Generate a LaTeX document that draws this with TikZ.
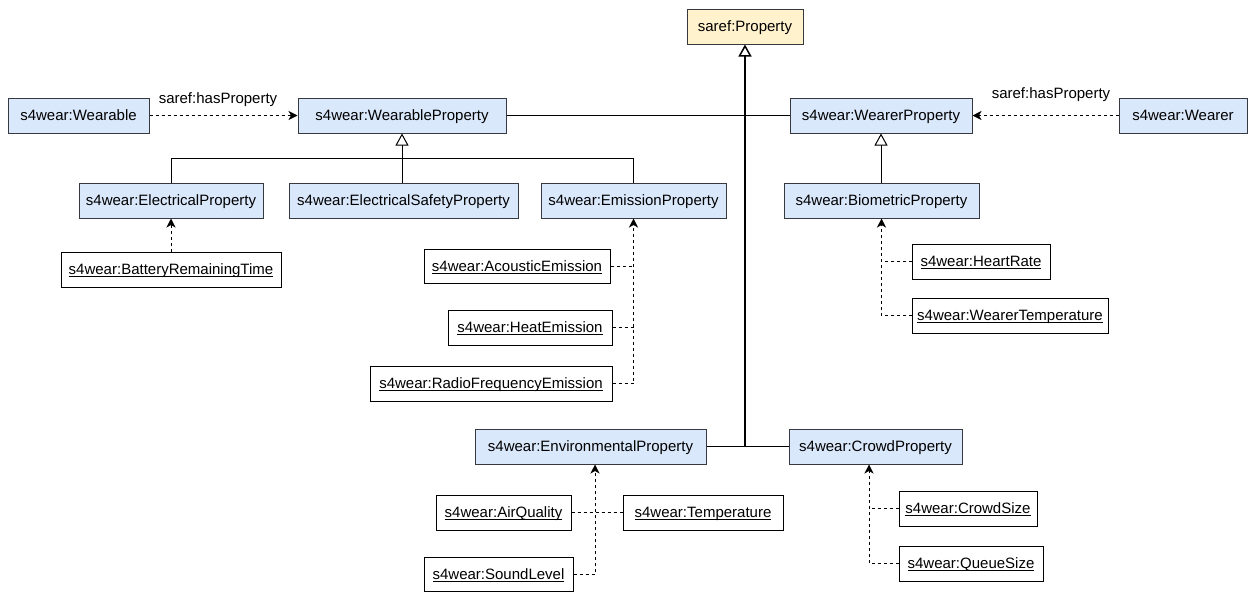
\documentclass[tikz,border=0pt]{standalone}
\usepackage{fontspec}
\setmainfont{Liberation Sans}
\usetikzlibrary{arrows.meta}
\definecolor{bluefill}{HTML}{DAE8FC}
\definecolor{yellowfill}{HTML}{FFF2CC}
\definecolor{boxline}{HTML}{36393D}
\newsavebox{\myulbox}
\newcommand{\ul}[1]{\sbox{\myulbox}{#1}\rlap{\rule[-1.7pt]{\wd\myulbox}{0.9pt}}\usebox{\myulbox}}
\tikzset{
  basebox/.style={line width=1pt, minimum height=35pt, inner sep=0pt,
    text height=10.7pt, text depth=0pt,
    font=\fontsize{15}{17}\selectfont, text=black},
  cls/.style={basebox, draw=boxline, fill=bluefill},
  topcls/.style={basebox, draw=boxline, fill=yellowfill},
  inst/.style={basebox, draw=black, fill=white},
  lbl/.style={inner sep=0pt, font=\fontsize{15}{17}\selectfont},
  assoc/.style={draw=black, line width=1pt},
  dline/.style={draw=black, line width=1pt, dash pattern=on 3pt off 3pt},
  dep/.style={dline, -{Stealth[length=9pt,width=9pt,inset=2.5pt]}},
  gen/.style={draw=black, line width=1pt, -{Triangle[open, length=12pt, width=13pt, fill=white]}},
  biggen/.style={draw=black, line width=2pt, -{Triangle[open, length=12pt, width=13pt, fill=white, line width=1.5pt]}},
}
\begin{document}
\begin{tikzpicture}[x=1pt,y=-1pt]
\useasboundingbox (0,0) rectangle (1248,592);

% classes
\node[topcls, minimum width=116pt] (prop) at (745,26.5) {saref:Property};
\node[cls, minimum width=141pt] (wbl) at (78.5,115.5) {s4wear:Wearable};
\node[cls, minimum width=208pt] (wp) at (402,115.5) {s4wear:WearableProperty};
\node[cls, minimum width=182pt] (wrp) at (881,115.5) {s4wear:WearerProperty};
\node[cls, minimum width=128pt] (wr) at (1183,115.5) {s4wear:Wearer};
\node[cls, minimum width=184pt] (elec) at (171,200.5) {s4wear:ElectricalProperty};
\node[cls, minimum width=229pt] (esp) at (403.5,200.5) {s4wear:ElectricalSafetyProperty};
\node[cls, minimum width=185pt] (emis) at (633.5,200.5) {s4wear:EmissionProperty};
\node[cls, minimum width=195pt] (bio) at (881.5,200.5) {s4wear:BiometricProperty};
\node[cls, minimum width=231pt] (env) at (590.5,446.5) {s4wear:EnvironmentalProperty};
\node[cls, minimum width=173pt] (crowd) at (875.5,446.5) {s4wear:CrowdProperty};

% instances
\node[inst, minimum width=220pt] (brt) at (171,269.5) {\ul{s4wear:BatteryRemainingTime}};
\node[inst, minimum width=186pt, minimum height=34pt] (ae) at (517,266.5) {\ul{s4wear:AcousticEmission}};
\node[inst, minimum width=164pt] (he) at (530,327.5) {\ul{s4wear:HeatEmission}};
\node[inst, minimum width=242pt] (rfe) at (491,383.5) {\ul{s4wear:RadioFrequencyEmission}};
\node[inst, minimum width=138pt] (hr) at (981,261.5) {\ul{s4wear:HeartRate}};
\node[inst, minimum width=196pt] (wt) at (1010,315.5) {\ul{s4wear:WearerTemperature}};
\node[inst, minimum width=135pt] (aq) at (503.5,512.5) {\ul{s4wear:AirQuality}};
\node[inst, minimum width=160pt] (temp) at (703,512.5) {\ul{s4wear:Temperature}};
\node[inst, minimum width=149pt, minimum height=34pt] (sl) at (498.5,574.5) {\ul{s4wear:SoundLevel}};
\node[inst, minimum width=138pt] (cs) at (968,508.5) {\ul{s4wear:CrowdSize}};
\node[inst, minimum width=144pt] (qs) at (971,563.5) {\ul{s4wear:QueueSize}};

% labels
\node[lbl] (lblL) at (218,100) {saref:hasProperty};
\node[lbl] (lblR) at (1051,95) {saref:hasProperty};

% object properties
\draw[dep] (wbl.east) -- (wp.west);
\draw[dep] (wr.west) -- (wrp.east);
\draw[assoc] (wp.east) -- (wrp.west);

% top-level generalisation
\coordinate (junc) at (prop.south |- env.east);
\draw[assoc] (env.east) -- (crowd.west);
\draw[biggen] (junc) -- (prop.south);

% wearable property tree
\coordinate (bar) at (0,158);
\draw[assoc] (elec.north) -- (elec.north |- bar) -- (emis.north |- bar) -- (emis.north);
\draw[gen] (wp.south |- esp.north) -- (wp.south);
\draw[gen] (bio.north -| wrp.south) -- (wrp.south);

% battery
\draw[dep] (brt.north) -- (brt.north |- elec.south);

% emission instances
\draw[dep] (rfe.east) -| (emis.south);
\draw[dline] (ae.east) -- (ae.east -| emis.south);
\draw[dline] (he.east) -- (he.east -| emis.south);

% biometric instances
\draw[dep] (wt.west) -| (bio.south);
\draw[dline] (hr.west) -- (hr.west -| bio.south);

% environmental instances
\coordinate (envarr) at ([xshift=4.5pt]env.south);
\draw[dep] (sl.east) -| (envarr);
\draw[dline] (aq.east) -- (temp.west);

% crowd instances
\coordinate (crowdarr) at ([xshift=-6.5pt]crowd.south);
\draw[dep] (qs.west) -| (crowdarr);
\draw[dline] (cs.west) -- (cs.west -| crowdarr);
\end{tikzpicture}
\end{document}
